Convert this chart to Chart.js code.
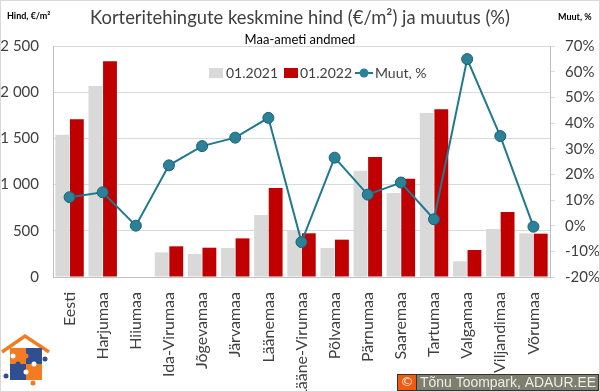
<!DOCTYPE html>
<html lang="et">
<head>
<meta charset="UTF-8">
<title>Korteritehingute keskmine hind</title>
<script src="https://cdn.jsdelivr.net/npm/chart.js"></script>
<style>
  html, body { margin: 0; padding: 0; background: #fff; }
</style>
</head>
<body>
<canvas id="myChart" width="600" height="392"></canvas>
<script>
// andmed
const maakonnad = ['Eesti', 'Harjumaa', 'Hiiumaa', 'Ida-Virumaa', 'Jõgevamaa', 'Järvamaa', 'Läänemaa',
  'Lääne-Virumaa', 'Põlvamaa', 'Pärnumaa', 'Saaremaa', 'Tartumaa', 'Valgamaa', 'Viljandimaa', 'Võrumaa'];
const hind2021 = [1540, 2067, null, 267, 249, 314, 671, 505, 314, 1150, 909, 1775, 170, 519, 473];
const hind2022 = [1707, 2334, null, 332, 317, 418, 963, 473, 404, 1299, 1064, 1815, 292, 703, 469];
const muutus = [11.1, 13.0, 0, 23.5, 31.0, 34.3, 42.0, -6.4, 26.5, 12.1, 16.8, 2.5, 64.9, 34.9, -0.4];

const HALL = '#d9d9d9', PUNANE = '#c00000', SININE = '#1f7a8e';
const FONT = 'Lato, "Open Sans", sans-serif';

// title, legend, axis captions, logo and copyright box
const extras = {
  id: 'extras',
  afterDraw(chart) {
    const c = chart.ctx;
    c.save();
    // border
    c.strokeStyle = '#d9d9d9'; c.lineWidth = 1;
    c.strokeRect(0.5, 0.5, 599, 391);

    c.fillStyle = '#404040';
    c.textAlign = 'center'; c.textBaseline = 'middle';
    c.font = '19px ' + FONT;
    c.fillText('Korteritehingute keskmine hind (€/m²) ja muutus (%)', 300, 18, 420);
    c.fillStyle = '#000';
    c.font = '13px ' + FONT;
    c.fillText('Maa-ameti andmed', 300, 40);

    c.font = 'bold 9px ' + FONT;
    c.textAlign = 'left';
    c.fillText('Hind, €/m²', 7, 16);
    c.fillText('Muut, %', 558, 17);

    // legend
    const ly = 73;
    c.font = '14px ' + FONT;
    c.fillStyle = HALL; c.fillRect(209, ly - 5, 14, 10);
    c.fillStyle = '#404040'; c.fillText('01.2021', 226, ly);
    c.fillStyle = PUNANE; c.fillRect(284, ly - 5, 14, 10);
    c.fillStyle = '#404040'; c.fillText('01.2022', 300, ly);
    c.strokeStyle = SININE; c.lineWidth = 2;
    c.beginPath(); c.moveTo(355, ly); c.lineTo(373, ly); c.stroke();
    c.fillStyle = '#2a8198';
    c.beginPath(); c.arc(364, ly, 4.5, 0, Math.PI * 2); c.fill();
    c.fillStyle = '#404040'; c.fillText('Muut, %', 375, ly);

    // logo
    const O = '#f47c20', B = '#2f4f92';
    c.strokeStyle = O; c.lineWidth = 3.5; c.lineJoin = 'miter';
    c.beginPath(); c.moveTo(2, 352); c.lineTo(25, 336); c.lineTo(49, 352); c.stroke();
    c.fillStyle = O; c.fillRect(10, 348, 16, 16); c.fillRect(26, 364, 16, 16);
    c.fillStyle = B; c.fillRect(26, 348, 16, 16); c.fillRect(10, 364, 16, 16);
    const knob = (x, y, col) => { c.fillStyle = col; c.beginPath(); c.arc(x, y, 2.5, 0, Math.PI * 2); c.fill(); };
    knob(45, 359, B); knob(6, 376, B); knob(33, 383, O); knob(26, 356, O); knob(18, 364, B);
    knob(34, 364, '#fff'); knob(26, 372, '#fff'); knob(13, 356, '#fff');

    // copyright
    c.fillStyle = '#333'; c.fillRect(397, 374, 202, 17);
    c.fillStyle = '#7f7f6e'; c.fillRect(417, 375, 181, 15);
    c.fillStyle = '#f25a0f'; c.fillRect(398, 375, 18, 15);
    c.fillStyle = '#fff';
    c.font = '13px "DejaVu Sans", sans-serif';
    c.textAlign = 'center';
    c.fillText('©', 407, 383);
    c.textAlign = 'left'; c.fillStyle = '#ececec';
    c.font = '15px "Liberation Sans Narrow", "Liberation Sans", sans-serif';
    c.fillText('Tõnu Toompark, ADAUR.EE', 420, 383, 176);
    c.restore();
  }
};

const ctx = document.getElementById('myChart').getContext('2d');
new Chart(ctx, {
  data: {
    labels: maakonnad,
    datasets: [
      { type: 'line', label: 'Muut, %', data: muutus, yAxisID: 'y1', order: 0,
        borderColor: SININE, borderWidth: 2, pointRadius: 5.5, pointBackgroundColor: '#2a8198',
        pointBorderColor: '#1b6073', pointBorderWidth: 1, tension: 0 },
      { type: 'bar', label: '01.2021', data: hind2021, backgroundColor: HALL, yAxisID: 'y', order: 1,
        categoryPercentage: 0.88, barPercentage: 0.95 },
      { type: 'bar', label: '01.2022', data: hind2022, backgroundColor: PUNANE, yAxisID: 'y', order: 1,
        categoryPercentage: 0.88, barPercentage: 0.95 }
    ]
  },
  options: {
    responsive: false,
    animation: false,
    devicePixelRatio: 1,
    layout: { padding: { top: 46, right: 0, left: 0, bottom: 0 } },
    plugins: { legend: { display: false }, title: { display: false }, tooltip: { enabled: false } },
    scales: {
      x: {
        grid: { display: false },
        border: { color: '#bfbfbf' },
        ticks: { minRotation: 90, maxRotation: 90, autoSkip: false, padding: 7,
          color: '#404040', font: { family: FONT, size: 16 } },
        afterFit: s => { s.height = 115; }
      },
      y: {
        position: 'left', min: 0, max: 2500,
        ticks: { stepSize: 500, padding: 14, color: '#404040', font: { family: FONT, size: 15 },
          callback: v => String(v).replace(/\B(?=(\d{3})+(?!\d))/g, ' ') },
        grid: { color: '#d9d9d9', drawTicks: false },
        border: { color: '#bfbfbf' },
        afterFit: s => { s.width = 53; }
      },
      y1: {
        position: 'right', min: -20, max: 70,
        ticks: { stepSize: 10, padding: 10, color: '#404040', font: { family: FONT, size: 15 },
          callback: v => v + '%' },
        grid: { drawOnChartArea: false, color: '#d9d9d9', tickLength: 5 },
        border: { color: '#bfbfbf' },
        afterFit: s => { s.width = 50; }
      }
    }
  },
  plugins: [extras]
});
</script>
</body>
</html>
